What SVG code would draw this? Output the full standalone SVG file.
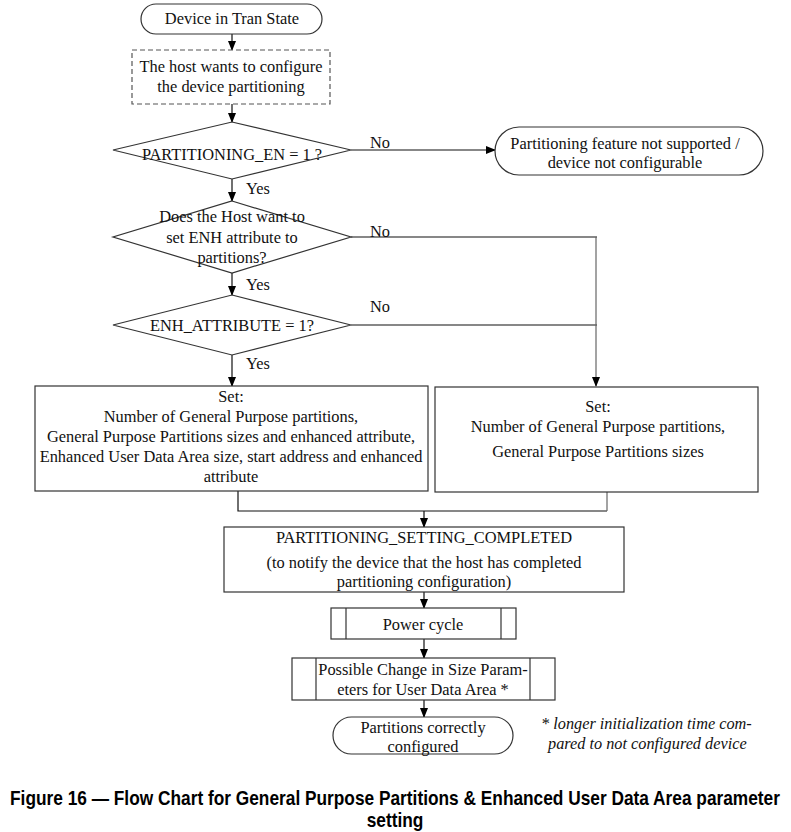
<svg xmlns="http://www.w3.org/2000/svg" width="791" height="832" viewBox="0 0 791 832">
<style>
.t{font-family:"Liberation Serif","Times New Roman",serif;font-size:16.4px;fill:#111;text-anchor:middle}
.n{font-family:"Liberation Serif","Times New Roman",serif;font-size:16.3px;fill:#111;font-style:italic}
.cap{font-family:"Liberation Sans Narrow","Liberation Sans",Arial,sans-serif;font-size:20px;font-weight:bold;fill:#000;text-anchor:middle}
.s{fill:#fff;stroke:#333;stroke-width:1.2}
.d{fill:#fff;stroke:#555;stroke-width:1.2;stroke-dasharray:5,3}
.c{fill:none;stroke:#111;stroke-width:1.2}
.g{fill:none;stroke:#666;stroke-width:1.2}
</style>
<defs>
<marker id="ah" markerWidth="10" markerHeight="10" refX="9" refY="5" orient="auto" markerUnits="userSpaceOnUse">
<path d="M0,1 L10,5 L0,9 Z" fill="#000"/>
</marker>
</defs>
<rect width="791" height="832" fill="#fff"/>

<g id="connectors">
<line class="c" x1="232" y1="34" x2="232" y2="50" marker-end="url(#ah)"/>
<line class="c" x1="232" y1="104" x2="232" y2="122" marker-end="url(#ah)"/>
<line class="c" x1="351" y1="150" x2="495" y2="150" marker-end="url(#ah)"/>
<line class="c" x1="232" y1="179" x2="232" y2="201" marker-end="url(#ah)"/>
<polyline class="c" points="351,237 597,237"/>
<line class="c" x1="232" y1="273" x2="232" y2="295" marker-end="url(#ah)"/>
<polyline class="c" points="351,325 597,325"/>
<line class="g" x1="596" y1="237" x2="596" y2="386" marker-end="url(#ah)"/>
<line class="c" x1="232" y1="355" x2="232" y2="386" marker-end="url(#ah)"/>
<polyline class="c" points="238,491 238,511 607,511"/>
<line class="g" x1="607" y1="492" x2="607" y2="511"/>
<line class="c" x1="424" y1="511" x2="424" y2="527" marker-end="url(#ah)"/>
<line class="c" x1="424" y1="592" x2="424" y2="608" marker-end="url(#ah)"/>
<line class="c" x1="424" y1="639" x2="424" y2="658" marker-end="url(#ah)"/>
<line class="c" x1="424" y1="700" x2="424" y2="717" marker-end="url(#ah)"/>
<text class="t" x="380" y="148">No</text>
<text class="t" x="380" y="237">No</text>
<text class="t" x="380" y="312">No</text>
<text class="t" x="258" y="194">Yes</text>
<text class="t" x="258" y="290">Yes</text>
<text class="t" x="258" y="369">Yes</text>
</g>

<g id="start">
<rect class="s" x="141" y="4" width="181" height="30" rx="15" ry="15"/>
<text class="t" x="232" y="24">Device in Tran State</text>
</g>

<g id="host-wants">
<rect class="d" x="132" y="50" width="198" height="54"/>
<text class="t" x="231" y="72">The host wants to configure</text>
<text class="t" x="231" y="92">the device partitioning</text>
</g>

<g id="dec-partitioning-en">
<polygon class="s" points="232,122 351,150 232,179 113,150"/>
<text class="t" x="232" y="160">PARTITIONING_EN = 1 ?</text>
</g>

<g id="not-supported">
<rect class="s" x="495" y="127" width="268" height="48" rx="24" ry="24"/>
<text class="t" x="625" y="149">Partitioning feature not supported /</text>
<text class="t" x="625" y="168">device not configurable</text>
</g>

<g id="dec-enh-want">
<polygon class="s" points="232,201 351,237 232,273 113,237"/>
<text class="t" x="232" y="222">Does the Host want to</text>
<text class="t" x="232" y="243">set ENH attribute to</text>
<text class="t" x="232" y="263">partitions?</text>
</g>

<g id="dec-enh-attr">
<polygon class="s" points="232,295 351,325 232,355 113,325"/>
<text class="t" x="232" y="331">ENH_ATTRIBUTE = 1?</text>
</g>

<g id="set-enh">
<rect class="s" x="35" y="386" width="393" height="105"/>
<text class="t" x="231" y="402">Set:</text>
<text class="t" x="231" y="422">Number of General Purpose partitions,</text>
<text class="t" x="231" y="442">General Purpose Partitions sizes and enhanced attribute,</text>
<text class="t" x="231" y="462">Enhanced User Data Area size, start address and enhanced</text>
<text class="t" x="231" y="482">attribute</text>
</g>

<g id="set-gp">
<rect class="s" x="435" y="387" width="323" height="105"/>
<text class="t" x="598" y="412">Set:</text>
<text class="t" x="598" y="432">Number of General Purpose partitions,</text>
<text class="t" x="598" y="457">General Purpose Partitions sizes</text>
</g>

<g id="setting-completed">
<rect class="s" x="224" y="527" width="400" height="65"/>
<text class="t" x="424" y="543">PARTITIONING_SETTING_COMPLETED</text>
<text class="t" x="424" y="568">(to notify the device that the host has completed</text>
<text class="t" x="424" y="587">partitioning configuration)</text>
</g>

<g id="power-cycle">
<rect class="s" x="331" y="608" width="185" height="31"/>
<line class="s" x1="346" y1="608" x2="346" y2="639"/>
<line class="s" x1="501" y1="608" x2="501" y2="639"/>
<text class="t" x="423" y="630">Power cycle</text>
</g>

<g id="size-change">
<rect class="s" x="292" y="658" width="263" height="42"/>
<line class="s" x1="316" y1="658" x2="316" y2="700"/>
<line class="s" x1="530" y1="658" x2="530" y2="700"/>
<text class="t" x="423" y="675">Possible Change in Size Param-</text>
<text class="t" x="423" y="695">eters for User Data Area *</text>
</g>

<g id="end">
<rect class="s" x="333" y="717" width="180" height="37" rx="18.5" ry="18.5"/>
<text class="t" x="423" y="733">Partitions correctly</text>
<text class="t" x="423" y="752">configured</text>
</g>

<g id="note">
<text class="n" x="541" y="729">* longer initialization time com-</text>
<text class="n" x="548" y="749">pared to not configured device</text>
</g>

<g id="caption">
<text class="cap" transform="translate(395,805) scale(0.865,1)" x="0" y="0">Figure 16 — Flow Chart for General Purpose Partitions &amp; Enhanced User Data Area parameter</text>
<text class="cap" transform="translate(395,827) scale(0.865,1)" x="0" y="0">setting</text>
</g>
</svg>
